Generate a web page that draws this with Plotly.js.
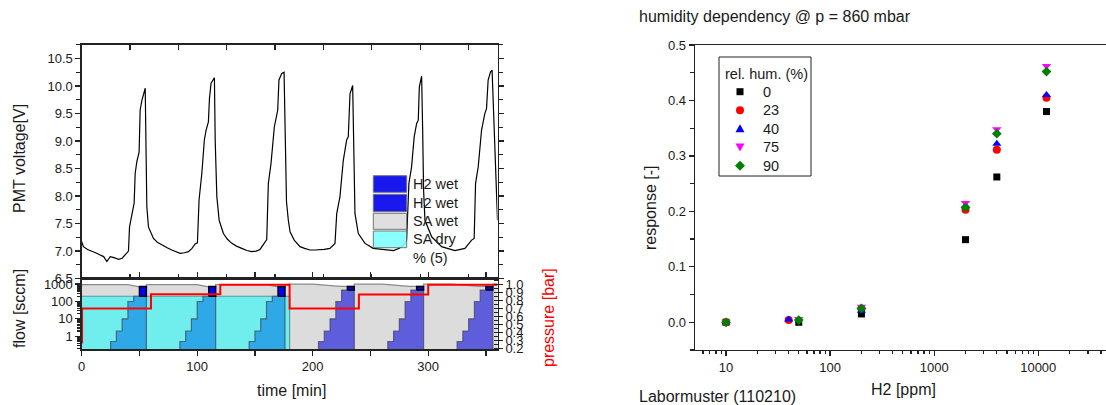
<!DOCTYPE html>
<html><head><meta charset="utf-8">
<script src="https://cdn.plot.ly/plotly-3.0.1.min.js"></script>
<style>html,body{margin:0;padding:0;background:#fff}#chart{width:1106px;height:405px}</style>
</head><body><div id="chart"></div>
<script>
// ---------- PMT voltage (top-left) ----------
const pmtTime = [0,1.5,5,8.8,12,16,19,21.8,23,24.7,28,31.9,35,37.6,40.5,41.4,43.4,45.4,46.3,47.7,49.7,50.6,52.1,54.2,55.0,55.6,56.4,57.8,60,62.1,65.5,69.4,74,78,82,85.2,89,92.4,95.5,98.2,100.2,101.6,104,106.2,107.7,109.7,110.6,112,114.9,115.6,117,119,122.7,126,130,134,138.6,143,147.2,151,154.4,158.7,160.2,161.6,163.9,166.8,169.7,170.8,173.2,175.2,176,177.3,178.9,180.4,184,189,193,197.6,202,206.3,210,214.9,219.3,220.8,223.6,226.5,229.4,230.8,232.3,234.6,235.4,236.6,239.5,245.3,252.4,262.6,270,275,279,281.3,283.3,285.6,287.9,290,291.4,292.3,294.3,295.2,296,297.2,303,311.6,323.1,331.8,337.6,339.8,341,343.3,346.2,349,350.5,351.9,354,355.3,357.7,360];
const pmtVolt = [7.17,7.08,7.03,6.99,6.97,6.93,6.90,6.81,6.85,6.90,6.88,6.85,6.87,6.93,7.00,7.44,7.68,7.87,8.41,8.62,8.80,9.56,9.74,9.90,9.96,9.0,7.80,7.44,7.32,7.23,7.16,7.11,7.06,7.02,6.98,6.96,6.97,6.99,7.05,7.13,7.15,7.93,8.41,9.02,9.20,9.35,9.77,10.05,10.15,9.0,7.99,7.56,7.32,7.22,7.14,7.09,7.05,7.01,6.99,7.00,7.03,7.17,7.21,8.23,8.59,9.26,9.56,10.11,10.23,10.25,9.2,7.9,7.56,7.35,7.20,7.08,7.05,7.02,7.02,7.02,7.03,7.05,7.14,7.68,7.99,8.65,9.02,9.08,9.86,10.01,9.0,7.68,7.32,7.14,7.05,7.02,7.01,7.05,7.12,7.20,8.23,8.53,9.08,9.32,9.38,9.98,10.18,9.2,8.11,7.56,7.26,7.08,7.01,7.05,7.20,7.23,8.23,8.53,9.20,9.50,9.59,10.11,10.26,10.29,8.71,7.56];

// ---------- flows (bottom-left) ----------
const cycleStarts = [0, 60, 120, 180, 240, 300];
const cycleIsDry  = [true, true, true, false, false, false];
const stepRelTime = [25, 30, 35, 40, 45];
const stepEndRel  = 56;
const stepFlowDry = [0.5, 2, 10, 100, 200];
const stepFlowWet = [0.5, 2, 10, 100, 450];
const boxRelTime  = [50, 56];
const boxFlowDry  = [200, 735];
const boxFlowWet  = [450, 735];
const wetTopRelDry = [0, 40, 50, 56, 56];
const wetTopDry    = [920, 920, 700, 700, 920];
const wetTopRelWet = [0, 20, 44, 56, 56];
const wetTopWet    = [1000, 1000, 735, 735, 1000];
const offFlow = 0.01;
const saDryTime = [0, 180, 180];
const saDryFlow = [200, 200, offFlow];
const pressTime = [0, 0.3, 60, 120, 180, 240, 300, 360];
const pressVal  = [0.27, 0.70, 0.88, 1.0, 0.70, 0.875, 1.0, 1.0];

// ---------- humidity dependency (right) ----------
const humLabels = ['0', '23', '40', '75', '90'];
const h2ppm = {
  '0':  [10, 50, 200, 2000, 4000, 12000],
  '23': [10, 40, 200, 2000, 4000, 12000],
  '40': [10, 40, 200, 2000, 4000, 12000],
  '75': [10, 50, 200, 2000, 4000, 12000],
  '90': [10, 50, 200, 2000, 4000, 12000]
};
const resp = {
  '0':  [0.0, 0.0, 0.015, 0.149, 0.262, 0.380],
  '23': [0.0, 0.004, 0.025, 0.203, 0.311, 0.405],
  '40': [0.0, 0.005, 0.021, 0.210, 0.322, 0.410],
  '75': [0.0, 0.006, 0.028, 0.215, 0.348, 0.462],
  '90': [0.0, 0.004, 0.025, 0.207, 0.340, 0.452]
};
const humColors  = ['#000000', '#ff0000', '#0000ff', '#ff00ff', '#008000'];
const humSymbols = ['square', 'circle', 'triangle-up', 'triangle-down', 'diamond'];
const humSizes   = [7, 8, 8, 8, 7.5];

// ---------- build ----------
const W = 1106, H = 405;
const fx = p => p / W;
const fy = p => 1 - p / H;
const FONT = 'Arial, "Liberation Sans", sans-serif';
const TXT = '#1a1a1a';

const traces = [];

// gray (SA wet) envelope
const gx = [], gy = [];
cycleStarts.forEach((s, i) => {
  const rel = cycleIsDry[i] ? wetTopRelDry : wetTopRelWet;
  const val = cycleIsDry[i] ? wetTopDry : wetTopWet;
  rel.forEach((r, k) => { gx.push(s + r); gy.push(val[k]); });
});
gx.push(360); gy.push(wetTopWet[0]);
traces.push({x: gx, y: gy, xaxis: 'x3', yaxis: 'y3', type: 'scatter', mode: 'lines', name: 'SA wet',
  fill: 'tozeroy', fillcolor: '#dcdcdc', line: {color: '#8a8a8a', width: 1.2}, showlegend: false, hoverinfo: 'skip'});
// cyan (SA dry)
traces.push({x: saDryTime, y: saDryFlow, xaxis: 'x3', yaxis: 'y3', type: 'scatter', mode: 'lines', name: 'SA dry',
  fill: 'tozeroy', fillcolor: '#70eeee', line: {color: '#5a9a9a', width: 1.2}, showlegend: false, hoverinfo: 'skip'});
// H2 staircases
cycleStarts.forEach((s, i) => {
  const fl = cycleIsDry[i] ? stepFlowDry : stepFlowWet;
  const xs = [s + stepRelTime[0]], ys = [offFlow];
  stepRelTime.forEach((r, k) => { xs.push(s + r); ys.push(fl[k]); });
  xs.push(s + stepEndRel); ys.push(fl[fl.length - 1]);
  xs.push(s + stepEndRel); ys.push(offFlow);
  traces.push({x: xs, y: ys, xaxis: 'x3', yaxis: 'y3', type: 'scatter', mode: 'lines', name: 'H2 wet',
    line: {shape: 'hv', color: 'rgba(70,70,90,0.75)', width: 1.2},
    fill: 'tozeroy', fillcolor: cycleIsDry[i] ? '#2ea8e6' : '#5e5edc', showlegend: false, hoverinfo: 'skip'});
});
// H2 wet boxes
cycleStarts.forEach((s, i) => {
  const b = cycleIsDry[i] ? boxFlowDry : boxFlowWet;
  traces.push({x: [s + boxRelTime[0], s + boxRelTime[1], s + boxRelTime[1], s + boxRelTime[0], s + boxRelTime[0]],
    y: [b[0], b[0], b[1], b[1], b[0]], xaxis: 'x3', yaxis: 'y3', type: 'scatter', mode: 'lines', name: 'H2 wet',
    fill: 'toself', fillcolor: '#0000ff', line: {color: '#000', width: 1.5}, showlegend: false, hoverinfo: 'skip'});
});
// pressure
traces.push({x: pressTime, y: pressVal, xaxis: 'x3', yaxis: 'y4', type: 'scatter', mode: 'lines', name: 'pressure',
  line: {shape: 'hv', color: '#ff0000', width: 2}, showlegend: false});
// PMT
traces.push({x: pmtTime, y: pmtVolt, xaxis: 'x', yaxis: 'y', type: 'scatter', mode: 'lines', name: 'PMT voltage',
  line: {color: '#000', width: 1.2}, showlegend: false});
// humidity series
humLabels.forEach((h, i) => {
  traces.push({x: h2ppm[h], y: resp[h], xaxis: 'x2', yaxis: 'y2', type: 'scatter', mode: 'markers', name: h,
    marker: {color: humColors[i], symbol: humSymbols[i], size: humSizes[i], line: {width: 0}}, showlegend: false});
});

const axBase = {showgrid: false, zeroline: false, showline: true, linecolor: '#222', linewidth: 1.3,
  tickcolor: '#222', tickfont: {family: FONT, size: 13, color: TXT}, ticklen: 5, tickwidth: 1.2};

const xdom = [fx(81.7), fx(497.5)];
const layout = {
  width: W, height: H, margin: {l: 0, r: 0, t: 0, b: 0}, paper_bgcolor: '#fff', plot_bgcolor: 'rgba(0,0,0,0)',
  font: {family: FONT, color: TXT}, showlegend: false,
  xaxis: Object.assign({}, axBase, {domain: xdom, anchor: 'y', range: [0, 360], showticklabels: false,
    ticks: 'inside', tick0: 0, dtick: 41.86, mirror: 'ticks'}),
  yaxis: Object.assign({}, axBase, {domain: [fy(278.6), fy(44.5)], anchor: 'x', range: [6.5, 10.755],
    dtick: 0.5, tick0: 6.5, tickformat: '.1f', ticks: 'outside', mirror: 'ticks',
    minor: {dtick: 0.25, ticks: 'outside', ticklen: 4, tickcolor: '#222'}}),
  xaxis3: Object.assign({}, axBase, {domain: xdom, anchor: 'y3', range: [0, 360], dtick: 100, tick0: 0,
    ticks: 'outside', mirror: 'allticks', minor: {dtick: 50, ticks: 'outside', ticklen: 4, tickcolor: '#222'}}),
  yaxis3: Object.assign({}, axBase, {domain: [fy(349.3), fy(278.7)], anchor: 'x3', type: 'log', range: [-0.75, 3.31],
    tickvals: [1, 10, 100, 1000], ticktext: ['1', '10', '100', '1000'], ticks: 'outside', ticklen: 5,
    minor: {dtick: 'D1', ticks: 'outside', ticklen: 3, tickcolor: '#222'}}),
  yaxis4: Object.assign({}, axBase, {overlaying: 'y3', side: 'right', anchor: 'x3', range: [0.185, 1.075],
    dtick: 0.1, tick0: 0.2, tickformat: '.1f', ticks: 'outside', ticklen: 4,
    minor: {dtick: 0.05, ticks: 'inside', ticklen: 4, tickcolor: '#222'}}),
  xaxis2: Object.assign({}, axBase, {domain: [fx(695), 1], anchor: 'y2', type: 'log', range: [0.702, 4.651],
    tickvals: [10, 100, 1000, 10000], ticktext: ['10', '100', '1000', '10000'], ticks: 'outside', mirror: true,
    minor: {dtick: 'D1', ticks: 'outside', ticklen: 3, tickcolor: '#222'}}),
  yaxis2: Object.assign({}, axBase, {domain: [fy(350), fy(45)], anchor: 'x2', range: [-0.05, 0.5],
    dtick: 0.1, tick0: 0, tickformat: '.1f', ticks: 'outside',
    minor: {dtick: 0.05, ticks: 'outside', ticklen: 4, tickcolor: '#222'}}),
  shapes: [],
  annotations: []
};

function ann(text, xp, yp, o) {
  layout.annotations.push(Object.assign({text: text, xref: 'paper', yref: 'paper', x: fx(xp), y: fy(yp),
    xanchor: 'center', yanchor: 'middle', showarrow: false, font: {family: FONT, size: 16, color: TXT}}, o || {}));
}
ann('PMT voltage[V]', 19, 159, {textangle: -90});
ann('flow [sccm]', 19, 309, {textangle: -90});
ann('pressure [bar]', 548, 318, {textangle: -90, font: {family: FONT, size: 16, color: '#ff0000'}});
ann('time [min]', 291, 390);
ann('humidity dependency @ p = 860 mbar', 637, 17, {xanchor: 'left'});
ann('response [-]', 650, 208, {textangle: -90});
ann('H2 [ppm]', 903, 389);
ann('Labormuster (110210)', 637, 396, {xanchor: 'left'});

// inset legend of the left panel
const legRows = [
  {t: 'H2 wet', c: '#0000ee', y0: 175.7, y1: 192.3},
  {t: 'H2 wet', c: '#0000ee', y0: 194.3, y1: 211.7},
  {t: 'SA wet', c: '#dcdcdc', y0: 213.3, y1: 229.3},
  {t: 'SA dry', c: '#80ffff', y0: 231.0, y1: 247.7}
];
legRows.forEach(r => {
  layout.shapes.push({type: 'rect', xref: 'paper', yref: 'paper', x0: fx(373.3), x1: fx(406.7), y0: fy(r.y1), y1: fy(r.y0),
    fillcolor: r.c, opacity: 0.9, line: {color: '#666', width: 1}});
  ann(r.t, 411, (r.y0 + r.y1) / 2, {xanchor: 'left', font: {family: FONT, size: 14.5, color: TXT}});
});
ann('% (5)', 411, 258, {xanchor: 'left', font: {family: FONT, size: 14.5, color: TXT}});

// legend of the right panel (rel. hum.)
layout.shapes.push({type: 'rect', xref: 'paper', yref: 'paper', x0: fx(719), x1: fx(811), y0: fy(176), y1: fy(57),
  fillcolor: '#fff', line: {color: '#222', width: 1}});
ann('rel. hum. (%)', 723, 73.5, {xanchor: 'left', font: {family: FONT, size: 14.5, color: TXT}});
const legY = [91.7, 110.3, 128.7, 147, 165.7];
const mx = 740;
function pathPx(pts) {
  return 'M ' + pts.map(p => fx(p[0]).toFixed(5) + ',' + fy(p[1]).toFixed(5)).join(' L ') + ' Z';
}
humLabels.forEach((h, i) => {
  const y = legY[i], c = humColors[i], sym = humSymbols[i];
  const base = {xref: 'paper', yref: 'paper', fillcolor: c, line: {width: 0}};
  if (sym === 'square') layout.shapes.push(Object.assign({type: 'rect', x0: fx(mx - 3.5), x1: fx(mx + 3.5), y0: fy(y + 3.5), y1: fy(y - 3.5)}, base));
  else if (sym === 'circle') layout.shapes.push(Object.assign({type: 'circle', x0: fx(mx - 4), x1: fx(mx + 4), y0: fy(y + 4), y1: fy(y - 4)}, base));
  else if (sym === 'triangle-up') layout.shapes.push(Object.assign({type: 'path', path: pathPx([[mx - 4.5, y + 3.5], [mx + 4.5, y + 3.5], [mx, y - 4.5]])}, base));
  else if (sym === 'triangle-down') layout.shapes.push(Object.assign({type: 'path', path: pathPx([[mx - 4.5, y - 3.5], [mx + 4.5, y - 3.5], [mx, y + 4.5]])}, base));
  else layout.shapes.push(Object.assign({type: 'path', path: pathPx([[mx, y - 5], [mx + 5, y], [mx, y + 5], [mx - 5, y]])}, base));
  ann(h, 760.5, y, {xanchor: 'left', font: {family: FONT, size: 14.5, color: TXT}});
});

Plotly.newPlot('chart', traces, layout, {displayModeBar: false, staticPlot: true});
</script>
</body></html>
